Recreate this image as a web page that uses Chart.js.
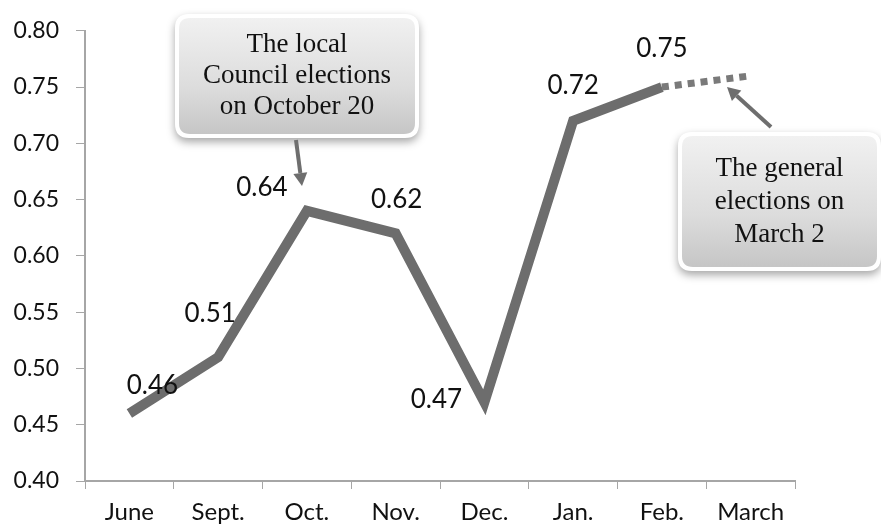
<!DOCTYPE html>
<html>
<head>
<meta charset="utf-8">
<script src="https://cdn.jsdelivr.net/npm/chart.js@4/dist/chart.umd.min.js"></script>
<style>
html,body{margin:0;padding:0;background:#fff;}
#wrap{width:881px;height:527px;position:relative;}
</style>
</head>
<body>
<div id="wrap"><canvas id="c" width="881" height="527"></canvas></div>
<script>
const categories = ['June', 'Sept.', 'Oct.', 'Nov.', 'Dec.', 'Jan.', 'Feb.', 'March'];
const values = [0.46, 0.51, 0.64, 0.62, 0.47, 0.72, 0.75, 0.76];
const valueLabels = ['0.46', '0.51', '0.64', '0.62', '0.47', '0.72', '0.75', ''];
const yTicks = [0.40, 0.45, 0.50, 0.55, 0.60, 0.65, 0.70, 0.75, 0.80];
const callout1 = ['The local', 'Council elections', 'on October 20'];
const callout2 = ['The general', 'elections on', 'March 2'];

// label offsets (dx, dy) from the point, in px
const labelOffsets = [[23,-28],[-8,-44],[-45,-23],[1,-34],[-48,-3],[0,-35],[0,-38],[0,0]];

function roundRect(ctx, x, y, w, h, r) {
  ctx.beginPath();
  ctx.moveTo(x + r, y);
  ctx.lineTo(x + w - r, y);
  ctx.quadraticCurveTo(x + w, y, x + w, y + r);
  ctx.lineTo(x + w, y + h - r);
  ctx.quadraticCurveTo(x + w, y + h, x + w - r, y + h);
  ctx.lineTo(x + r, y + h);
  ctx.quadraticCurveTo(x, y + h, x, y + h - r);
  ctx.lineTo(x, y + r);
  ctx.quadraticCurveTo(x, y, x + r, y);
  ctx.closePath();
}

function drawArrow(ctx, x1, y1, x2, y2) {
  const ang = Math.atan2(y2 - y1, x2 - x1);
  const head = 13, hw = 7;
  const bx = x2 - head * Math.cos(ang), by = y2 - head * Math.sin(ang);
  ctx.save();
  ctx.strokeStyle = '#6e6e6e';
  ctx.fillStyle = '#6e6e6e';
  ctx.lineWidth = 4;
  ctx.beginPath();
  ctx.moveTo(x1, y1);
  ctx.lineTo(bx, by);
  ctx.stroke();
  ctx.beginPath();
  ctx.moveTo(x2, y2);
  ctx.lineTo(bx + hw * Math.sin(ang), by - hw * Math.cos(ang));
  ctx.lineTo(bx - hw * Math.sin(ang), by + hw * Math.cos(ang));
  ctx.closePath();
  ctx.fill();
  ctx.restore();
}

function drawCallout(ctx, x, y, w, h, lines, lineH) {
  ctx.save();
  ctx.shadowColor = 'rgba(0,0,0,0.35)';
  ctx.shadowBlur = 8;
  ctx.shadowOffsetX = 0;
  ctx.shadowOffsetY = 4;
  roundRect(ctx, x, y, w, h, 14);
  ctx.fillStyle = '#ffffff';
  ctx.fill();
  ctx.restore();
  ctx.save();
  const g = ctx.createLinearGradient(0, y, 0, y + h);
  g.addColorStop(0, '#f2f2f2');
  g.addColorStop(0.6, '#dcdcdc');
  g.addColorStop(1, '#c4c4c4');
  roundRect(ctx, x + 4, y + 4, w - 8, h - 8, 11);
  ctx.fillStyle = g;
  ctx.fill();
  ctx.fillStyle = '#111';
  ctx.font = '27px "Liberation Serif", "DejaVu Serif", serif';
  ctx.textAlign = 'center';
  ctx.textBaseline = 'middle';
  const cy = y + h / 2 - (lines.length - 1) * lineH / 2;
  lines.forEach((t, i) => ctx.fillText(t, x + w / 2, cy + i * lineH));
  ctx.restore();
}

const annotPlugin = {
  id: 'annot',
  afterDatasetsDraw(chart) {
    const ctx = chart.ctx;
    const meta = chart.getDatasetMeta(0);
    ctx.save();
    ctx.font = '26px Lato, "Open Sans", sans-serif';
    ctx.fillStyle = '#111';
    ctx.textAlign = 'center';
    ctx.textBaseline = 'middle';
    meta.data.forEach((pt, i) => {
      if (!valueLabels[i]) return;
      ctx.fillText(valueLabels[i], pt.x + labelOffsets[i][0], pt.y + labelOffsets[i][1]);
    });
    ctx.restore();
    drawCallout(ctx, 175, 14, 244, 124, callout1, 31);
    drawArrow(ctx, 296, 140, 302, 186);
    drawCallout(ctx, 678, 132, 203, 139, callout2, 33);
    drawArrow(ctx, 771, 127, 727, 87);
  }
};

const ctx = document.getElementById('c').getContext('2d');
new Chart(ctx, {
  type: 'line',
  data: {
    labels: categories,
    datasets: [{
      data: values,
      borderColor: '#6d6d6d',
      borderWidth: 10,
      borderCapStyle: 'butt',
      borderJoinStyle: 'miter',
      pointRadius: 0,
      pointHoverRadius: 0,
      tension: 0,
      fill: false,
      segment: {
        borderDash: c => c.p1DataIndex === 7 ? [7, 6] : undefined,
        borderWidth: c => c.p1DataIndex === 7 ? 7 : undefined,
        borderColor: c => c.p1DataIndex === 7 ? '#7a7a7a' : undefined
      }
    }]
  },
  options: {
    responsive: false,
    animation: false,
    events: [],
    layout: { padding: { left: 0, right: 86, top: 30, bottom: 0 } },
    plugins: { legend: { display: false }, tooltip: { enabled: false } },
    scales: {
      x: {
        offset: true,
        grid: { offset: true, drawOnChartArea: false, drawTicks: true, tickLength: 8, color: '#a6a6a6' },
        border: { color: '#a6a6a6', width: 2 },
        ticks: { color: '#111', font: { family: 'Lato, "Open Sans", sans-serif', size: 24 }, padding: 9, maxRotation: 0 },
        afterFit: s => { s.height = 46; }
      },
      y: {
        min: 0.40,
        max: 0.80,
        afterBuildTicks: s => { s.ticks = yTicks.map(v => ({ value: v })); },
        grid: { drawOnChartArea: false, drawTicks: true, tickLength: 9, color: '#a6a6a6' },
        border: { color: '#a6a6a6', width: 2 },
        ticks: {
          color: '#111',
          font: { family: 'Lato, "Open Sans", sans-serif', size: 23 },
          padding: 17,
          callback: v => Number(v).toFixed(2)
        },
        afterFit: s => { s.width = 85; }
      }
    }
  },
  plugins: [annotPlugin]
});
</script>
</body>
</html>
